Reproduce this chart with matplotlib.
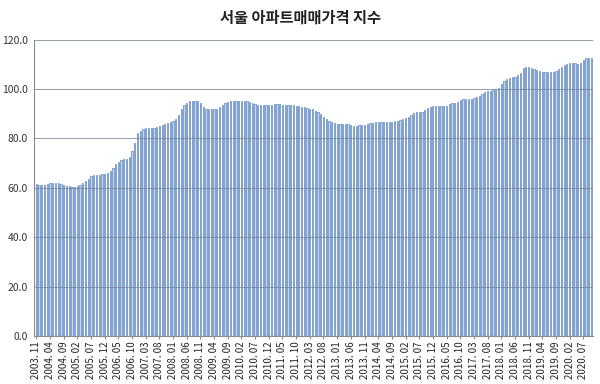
import numpy as np
import pandas as pd
import matplotlib
matplotlib.use('Agg')
import matplotlib.pyplot as plt

plt.rcParams['font.family'] = ['Noto Sans CJK KR', 'DejaVu Sans']

# 서울 아파트매매가격 지수 (월별, 2003.11 ~ 2020.10)
months = pd.period_range('2003-11', '2020-10', freq='M')

idx_2003_2006 = [61.4, 61.0, 61.0, 61.1, 61.5, 61.8, 62.0, 62.1, 61.8, 61.5,
                 61.0, 60.8, 60.7, 60.5, 60.4, 60.8, 61.2, 62.1, 62.8, 63.7,
                 64.8, 65.2, 65.2, 65.2, 65.5, 65.6, 65.9, 66.6, 68.2, 69.5,
                 70.6, 71.3, 71.6, 71.8, 72.4]
idx_2006_2009 = [75.0, 78.0, 82.0, 83.1, 83.6, 84.0, 84.0, 84.3, 84.3, 84.7,
                 85.1, 85.4, 85.7, 86.1, 86.5, 87.0, 87.8, 89.4, 91.7, 93.5,
                 94.4, 95.0, 95.2, 95.2, 95.1, 94.2, 92.8, 91.9, 91.8, 91.8,
                 91.8, 92.0, 92.8]
idx_2009_2012 = [93.5, 94.4, 94.8, 95.0, 95.1, 95.1, 95.2, 95.2, 95.1, 95.1,
                 94.8, 94.5, 93.9, 93.7, 93.5, 93.4, 93.4, 93.4, 93.7, 93.8,
                 93.8, 93.8, 93.7, 93.7, 93.5, 93.5, 93.4, 93.3, 93.1, 92.8,
                 92.5, 92.3, 92.0, 91.8, 91.2, 90.7]
idx_2012_2015 = [90.0, 88.8, 87.8, 87.1, 86.5, 86.1, 85.8, 85.8, 85.8, 85.8,
                 85.7, 85.4, 85.0, 85.2, 85.4, 85.5, 85.5, 85.9, 86.1, 86.3,
                 86.5, 86.5, 86.5, 86.5, 86.5, 86.7, 86.8, 87.1, 87.1, 87.4,
                 87.8, 88.2, 88.8, 89.4, 90.1, 90.6, 90.8]
idx_2015_2018 = [90.8, 91.5, 92.1, 92.5, 93.0, 93.1, 93.1, 93.1, 93.1, 93.2,
                 93.9, 94.2, 94.5, 94.8, 95.5, 95.9, 96.0, 96.0, 96.1, 96.4,
                 96.6, 97.1, 97.9, 98.6, 99.0, 99.3, 99.6, 100.0, 100.5, 102.0,
                 103.3, 104.0, 104.3, 104.7, 105.0, 105.5]
idx_2018_2020 = [106.5, 108.3, 108.9, 108.9, 108.6, 108.2, 107.7, 107.3, 107.0, 106.8,
                 106.8, 106.8, 107.0, 107.4, 108.0, 108.8, 109.8, 110.3, 110.5, 110.5,
                 110.5, 110.3, 110.5, 111.7, 112.4, 112.5, 112.7]

values = (idx_2003_2006 + idx_2006_2009 + idx_2009_2012 +
          idx_2012_2015 + idx_2015_2018 + idx_2018_2020)
labels = [f"{p.year}. {p.month:02d}" for p in months]

fig = plt.figure(figsize=(6, 3.84), dpi=100)
ax = fig.add_axes([0.056, 0.125, 0.933, 0.772])

x = np.arange(len(values))
ax.bar(x, values, width=0.45, color='#c6d9f1', edgecolor='#5b85bd',
       linewidth=0.5, zorder=2)

ax.set_xlim(-1, len(values) - 0.3)
ax.set_ylim(0, 120)
ax.set_yticks(np.arange(0, 121, 20))
ax.set_yticklabels([f"{v:.1f}" for v in np.arange(0, 121, 20)], fontsize=7.5,
                   color='#333333')
ax.set_axisbelow(False)
ax.yaxis.grid(True, color='#7a8699', linewidth=0.7, alpha=0.8)
ax.tick_params(axis='y', length=0, pad=4)

ax.set_xticks(x[::5])
ax.set_xticklabels(labels[::5], rotation=90, fontsize=7, color='#222222')
ax.tick_params(axis='x', length=2, color='#8c8c8c', pad=2)

for s in ['top', 'right']:
    ax.spines[s].set_visible(False)
for s in ['left', 'bottom']:
    ax.spines[s].set_color('#8c8c8c')
    ax.spines[s].set_linewidth(0.8)

fig.text(0.5, 0.953, '서울 아파트매매가격 지수', ha='center', va='center',
         fontsize=11, fontweight='bold', color='#222222')

fig.savefig('out.png', dpi=100)
